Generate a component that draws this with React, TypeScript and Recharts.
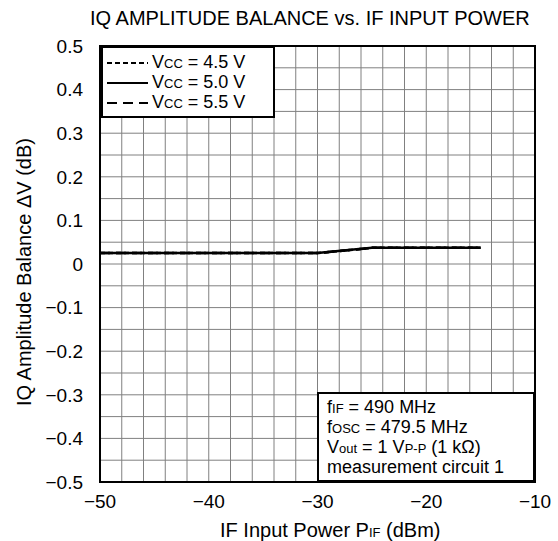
import React from 'react';
import { LineChart, Line, XAxis, YAxis, CartesianGrid, ReferenceArea, Legend } from 'recharts';

// IF input power (dBm)
const power = [-50, -45, -40, -35, -30, -25, -20, -15];
// IQ amplitude balance (dB) for each supply voltage
const vcc45 = [0.025, 0.025, 0.025, 0.025, 0.025, 0.037, 0.037, 0.037];
const vcc50 = [0.025, 0.025, 0.025, 0.025, 0.025, 0.037, 0.037, 0.037];
const vcc55 = [0.025, 0.025, 0.025, 0.025, 0.025, 0.037, 0.037, 0.037];

const xTicks = [-50, -48, -46, -44, -42, -40, -38, -36, -34, -32, -30, -28, -26, -24, -22, -20, -18, -16, -14, -12, -10];
const yTicks = [
  -0.5, -0.45, -0.4, -0.35, -0.3, -0.25, -0.2, -0.15, -0.1, -0.05, 0,
  0.05, 0.1, 0.15, 0.2, 0.25, 0.3, 0.35, 0.4, 0.45, 0.5,
];

const seriesNames = ['4.5 V', '5.0 V', '5.5 V'];
const dashes = ['5 3', undefined, '10 6'];

const data = power.map((p, i) => ({ p, a: vcc45[i], b: vcc50[i], c: vcc55[i] }));

const FONT = '"Liberation Sans", Arial, sans-serif';

const fmtX = (v: number) => (v % 10 === 0 ? (v < 0 ? '\u2212' + Math.abs(v) : String(v)) : '');
const fmtY = (v: number) => {
  if (Math.round(Math.abs(v) * 100) % 10 !== 0) return '';
  if (Math.abs(v) < 1e-9) return '0';
  return v < 0 ? '\u2212' + Math.abs(v).toFixed(1) : v.toFixed(1);
};

const sub = { fontSize: 13 };
const row = { height: 20, lineHeight: '20px', whiteSpace: 'nowrap' as const };

function LegendBox() {
  return (
    <div
      style={{
        width: 174, height: 72, boxSizing: 'border-box', border: '2px solid #000', background: '#fff',
        fontFamily: FONT, fontSize: 18, paddingTop: 4.5,
      }}
    >
      {seriesNames.map((n, i) => (
        <div key={n} style={{ ...row, display: 'flex', alignItems: 'center' }}>
          <svg width={45} height={10} style={{ marginLeft: 4, flex: 'none' }}>
            <line x1={0} y1={5} x2={41} y2={5} stroke="#000" strokeWidth={2} strokeDasharray={dashes[i]} />
          </svg>
          <span>
            V<span style={sub}>CC</span> = {n}
          </span>
        </div>
      ))}
    </div>
  );
}

export default function App() {
  return (
    <div style={{ position: 'absolute', left: 0, top: 0, width: 558, height: 541, background: '#fff', fontFamily: FONT, color: '#000' }}>
      <div style={{ position: 'absolute', left: 90, top: 8, fontSize: 20, lineHeight: '20px', whiteSpace: 'nowrap' }}>
        IQ AMPLITUDE BALANCE vs. IF INPUT POWER
      </div>
      <LineChart width={558} height={541} data={data} margin={{ top: 46, right: 23, bottom: 29, left: 40 }}>
        <CartesianGrid stroke="#808080" strokeWidth={1} />
        <XAxis
          dataKey="p"
          type="number"
          domain={[-50, -10]}
          ticks={xTicks}
          interval={0}
          tickFormatter={fmtX}
          tickLine={false}
          axisLine={false}
          height={30}
          tickMargin={7}
          tick={{ fill: '#000', fontSize: 19, fontFamily: FONT }}
        />
        <YAxis
          type="number"
          domain={[-0.5, 0.5]}
          ticks={yTicks}
          interval={0}
          tickFormatter={fmtY}
          tickLine={false}
          axisLine={false}
          width={60}
          tickMargin={11}
          tick={{ fill: '#000', fontSize: 19, fontFamily: FONT }}
        />
        <ReferenceArea x1={-50} x2={-10} y1={-0.5} y2={0.5} fill="none" stroke="#000" strokeWidth={2} />
        <Line dataKey="a" stroke="#000" strokeWidth={2.5} strokeDasharray="5 3" dot={false} isAnimationActive={false} />
        <Line dataKey="c" stroke="#000" strokeWidth={2.5} strokeDasharray="10 6" dot={false} isAnimationActive={false} />
        <Line dataKey="b" stroke="#000" strokeWidth={2.5} dot={false} isAnimationActive={false} />
        <Legend
          layout="vertical"
          align="center"
          verticalAlign="middle"
          content={() => <LegendBox />}
          wrapperStyle={{ position: 'absolute', left: 101, top: 46, width: 174 }}
        />
      </LineChart>
      <div
        style={{
          position: 'absolute', left: 24.4 - 200, top: 272 - 10, width: 400, height: 20, lineHeight: '20px',
          textAlign: 'center', fontSize: 20, transform: 'rotate(-90deg)', whiteSpace: 'nowrap',
        }}
      >
        IQ Amplitude Balance ΔV (dB)
      </div>
      <div style={{ position: 'absolute', left: 220, top: 520, fontSize: 20, lineHeight: '20px', whiteSpace: 'nowrap' }}>
        IF Input Power P<span style={sub}>IF</span> (dBm)
      </div>
      <div
        style={{
          position: 'absolute', left: 317, top: 392, width: 218, height: 90, boxSizing: 'border-box',
          border: '2px solid #000', background: '#fff', fontSize: 18, padding: '3px 0 0 8px',
        }}
      >
        <div style={row}>f<span style={sub}>IF</span> = 490 MHz</div>
        <div style={row}>f<span style={sub}>OSC</span> = 479.5 MHz</div>
        <div style={row}>V<span style={sub}>out</span> = 1 V<span style={sub}>P-P</span> (1 kΩ)</div>
        <div style={row}>measurement circuit 1</div>
      </div>
    </div>
  );
}
